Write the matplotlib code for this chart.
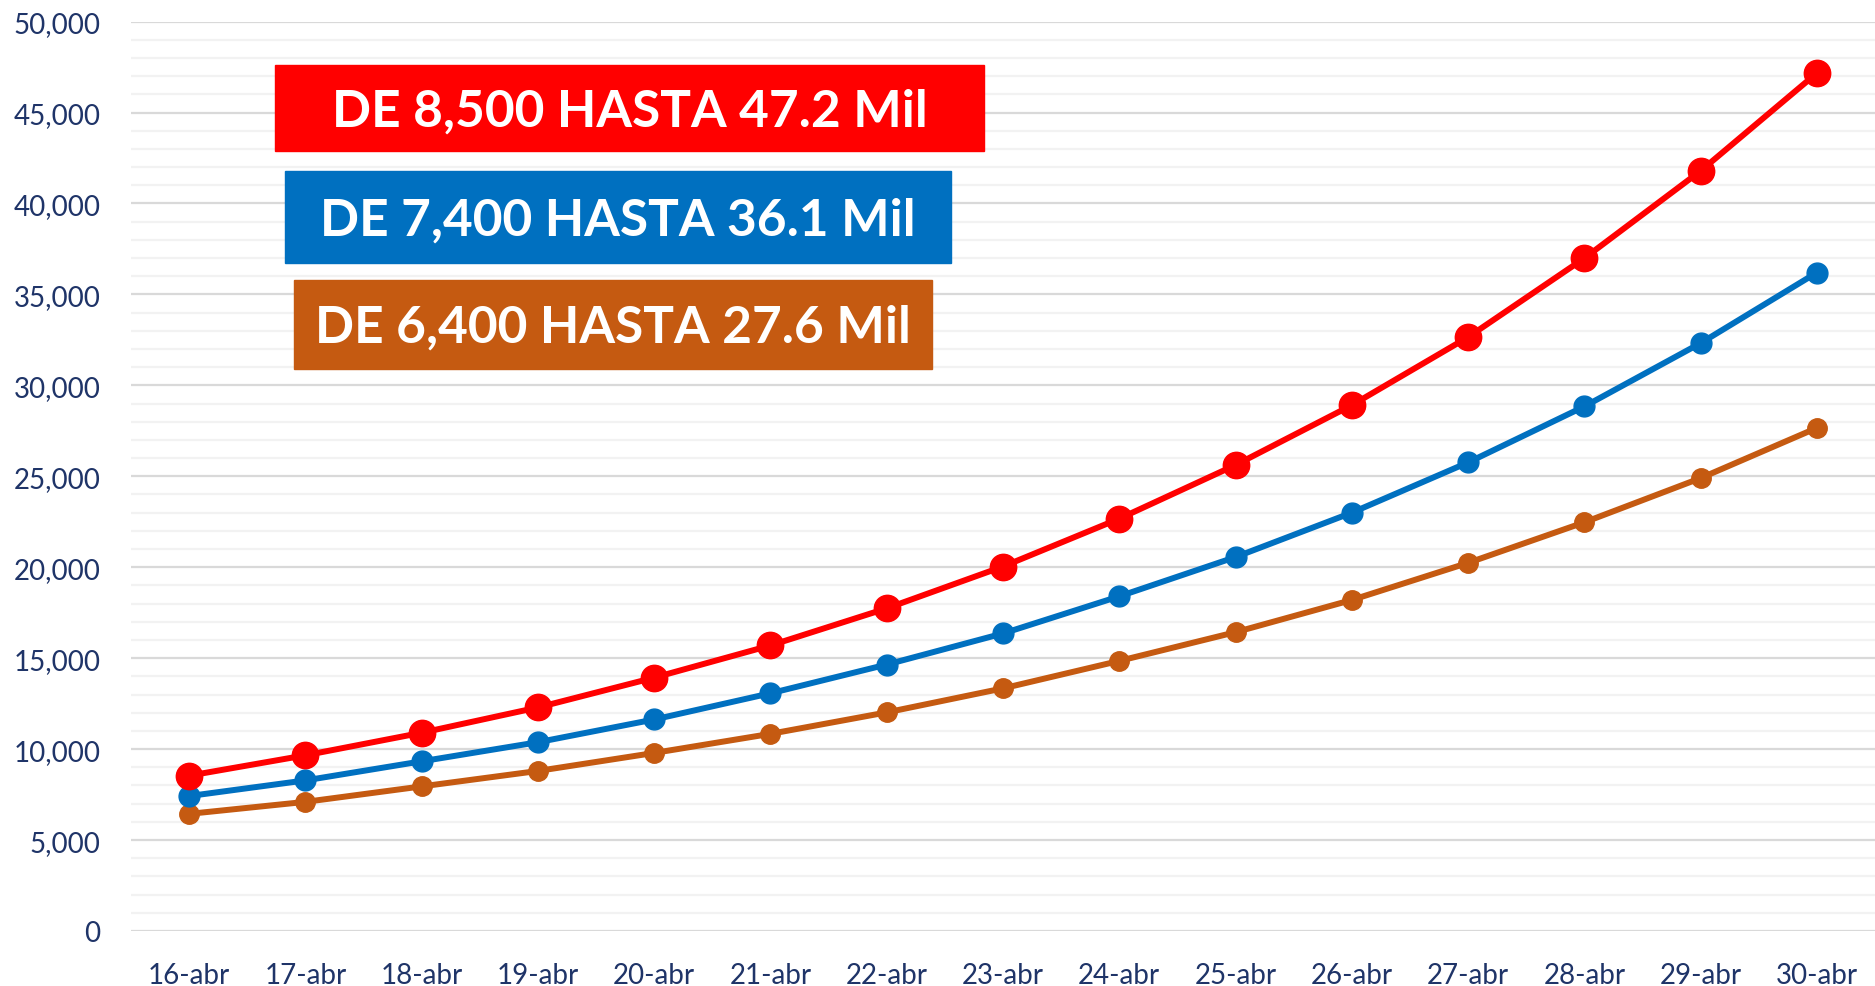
import matplotlib
matplotlib.use("Agg")
from matplotlib import pyplot as plt
from matplotlib.ticker import MultipleLocator, FuncFormatter

# dates on the x axis
dias = ["16-abr", "17-abr", "18-abr", "19-abr", "20-abr", "21-abr", "22-abr", "23-abr",
        "24-abr", "25-abr", "26-abr", "27-abr", "28-abr", "29-abr", "30-abr"]

# three projections
alto = [8540, 9660, 10900, 12290, 13930, 15700, 17740, 20040,
        22670, 25620, 28910, 32650, 36990, 41790, 47170]
medio = [7420, 8280, 9330, 10380, 11630, 13070, 14650, 16360,
         18400, 20560, 23000, 25760, 28840, 32320, 36200]
bajo = [6440, 7100, 7950, 8800, 9790, 10840, 12020, 13340,
        14850, 16430, 18200, 20240, 22470, 24900, 27660]

etiquetas = ["DE 8,500 HASTA 47.2 Mil", "DE 7,400 HASTA 36.1 Mil", "DE 6,400 HASTA 27.6 Mil"]

ROJO = "#ff0000"
AZUL = "#0070c0"
CAFE = "#c55a11"
TEXTO = "#1f3468"

plt.rcParams["font.family"] = ["Lato", "DejaVu Sans"]

W, H = 1875, 987
fig = plt.figure(figsize=(W / 100, H / 100), dpi=100)
ax = fig.add_axes([131 / W, (H - 932) / H, 1 - 131 / W, (932 - 22.6) / H])

x = list(range(len(dias)))
ax.plot(x, bajo, color=CAFE, lw=4.3, marker="o", ms=14, zorder=3)
ax.plot(x, medio, color=AZUL, lw=4.3, marker="o", ms=15, zorder=4)
ax.plot(x, alto, color=ROJO, lw=4.3, marker="o", ms=19, zorder=5)

ax.set_xlim(-0.5, len(dias) - 0.5)
ax.set_ylim(0, 50000)
ax.set_xticks(x)
ax.set_xticklabels(dias)
ax.yaxis.set_major_locator(MultipleLocator(5000))
ax.yaxis.set_minor_locator(MultipleLocator(1000))
ax.yaxis.set_major_formatter(FuncFormatter(lambda v, p: f"{int(v):,}"))

ax.grid(axis="y", which="major", color="#d9d9d9", lw=1.6, zorder=0)
ax.grid(axis="y", which="minor", color="#f2f2f2", lw=1.6, zorder=0)
ax.set_axisbelow(True)
for s in ax.spines.values():
    s.set_visible(False)
ax.tick_params(axis="both", which="both", length=0, colors=TEXTO, labelsize=20)
ax.tick_params(axis="y", pad=22)
ax.tick_params(axis="x", pad=22)

# coloured label boxes, in figure pixels (left, top, right, bottom)
cajas = [(275, 66, 984, 152, ROJO), (285, 172, 951, 264, AZUL), (294, 281, 932, 370, CAFE)]
for (l, t, r, b, c), txt in zip(cajas, etiquetas):
    fig.patches.append(plt.Rectangle((l / W, 1 - b / H), (r - l) / W, (b - t) / H,
                                     transform=fig.transFigure, color=c, zorder=10))
    fig.text((l + r) / 2 / W, 1 - ((t + b) / 2 + 3) / H, txt, color="white", fontsize=37,
             fontweight="bold", ha="center", va="center", zorder=11)

fig.savefig("out.png", dpi=100)
